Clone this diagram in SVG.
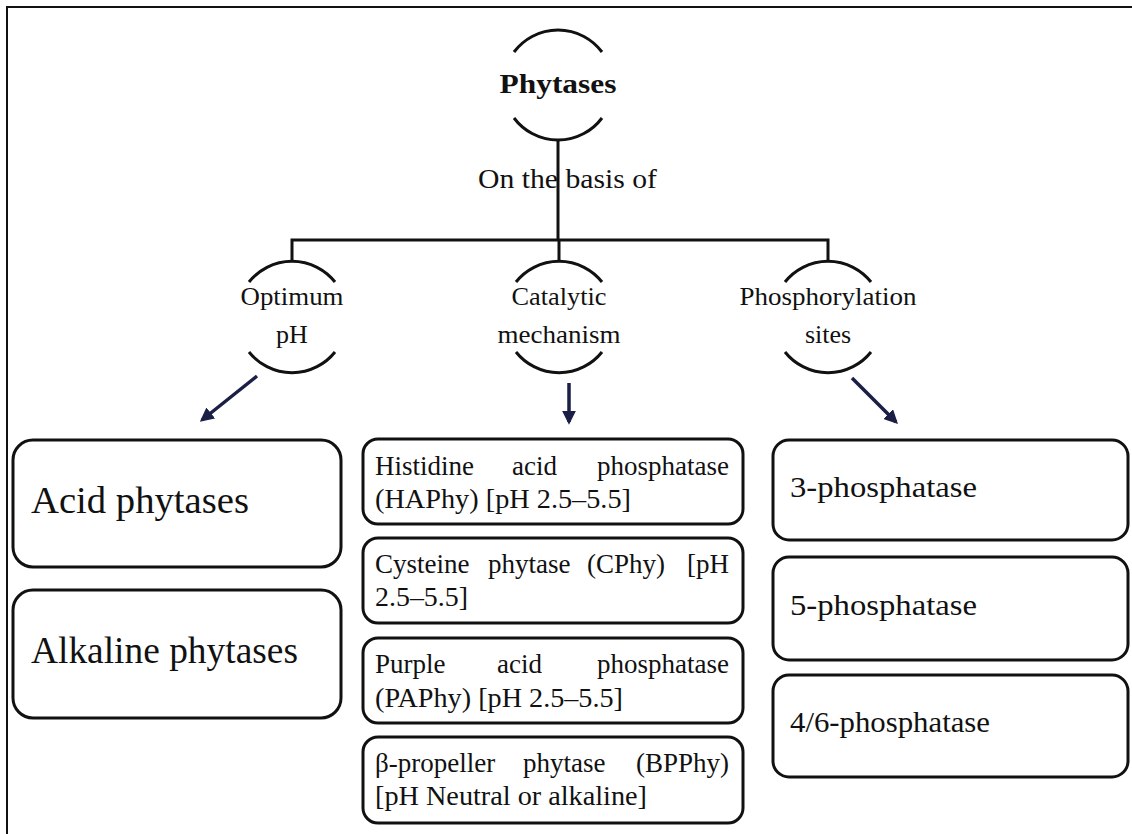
<svg xmlns="http://www.w3.org/2000/svg" width="1132" height="834" viewBox="0 0 1132 834">
<style>
  text { font-family: "Liberation Serif", "Times New Roman", serif; fill: #111; }
  .arc { fill: none; stroke: #111; stroke-width: 3; }
  .box { fill: #fff; stroke: #111; stroke-width: 3; }
  .conn { fill: none; stroke: #111; stroke-width: 3; }
  .arrow { fill: none; stroke: #1b1f45; stroke-width: 3.5; }
  .lbl { font-size: 26px; text-anchor: middle; }
  .mid { font-size: 27px; }
  .big { font-size: 37px; }
  .rt { font-size: 29px; }
</style>
<defs>
  <marker id="ah" viewBox="0 0 10 10" refX="8" refY="5" markerWidth="14" markerHeight="14" markerUnits="userSpaceOnUse" orient="auto">
    <path d="M0,0 L10,5 L0,10 z" fill="#1b1f45"/>
  </marker>
</defs>
<rect width="1132" height="834" fill="#fff"/>
<g id="frame">
  <path d="M7,834 L7,7 L1132,7" fill="none" stroke="#111" stroke-width="2"/>
</g>

<g id="connectors">
  <path class="conn" d="M558,140 L558,240"/>
  <path class="conn" d="M292,262 L292,240 L828,240 L828,262"/>
  <path class="conn" d="M559,240 L559,262"/>
  <line class="arrow" x1="257" y1="376" x2="202" y2="420" marker-end="url(#ah)"/>
  <line class="arrow" x1="569" y1="383" x2="569" y2="422" marker-end="url(#ah)"/>
  <line class="arrow" x1="852" y1="378" x2="896" y2="422" marker-end="url(#ah)"/>
</g>

<g id="phytases">
  <path class="arc" d="M514,52 A55,55 0 0 1 602,52"/>
  <path class="arc" d="M514,118 A55,55 0 0 0 602,118"/>
  <text x="558" y="93" font-size="28" font-weight="bold" text-anchor="middle" textLength="117" lengthAdjust="spacingAndGlyphs">Phytases</text>
</g>

<g id="basis-label">
  <text x="478" y="188" font-size="27" textLength="179" lengthAdjust="spacingAndGlyphs">On the basis of</text>
</g>

<g id="optimum-ph">
  <path class="arc" d="M249,282 A55,55 0 0 1 335,282"/>
  <path class="arc" d="M249,352 A55,55 0 0 0 335,352"/>
  <text class="lbl" x="292" y="305" textLength="103" lengthAdjust="spacingAndGlyphs">Optimum</text>
  <text class="lbl" x="292" y="343">pH</text>
</g>

<g id="catalytic-mechanism">
  <path class="arc" d="M516,282 A55,55 0 0 1 602,282"/>
  <path class="arc" d="M516,352 A55,55 0 0 0 602,352"/>
  <text class="lbl" x="559" y="305" textLength="95" lengthAdjust="spacingAndGlyphs">Catalytic</text>
  <text class="lbl" x="559" y="343" textLength="123" lengthAdjust="spacingAndGlyphs">mechanism</text>
</g>

<g id="phosphorylation-sites">
  <path class="arc" d="M785,282 A55,55 0 0 1 871,282"/>
  <path class="arc" d="M785,352 A55,55 0 0 0 871,352"/>
  <text class="lbl" x="828" y="305" textLength="177" lengthAdjust="spacingAndGlyphs">Phosphorylation</text>
  <text class="lbl" x="828" y="343">sites</text>
</g>

<g id="acid-phytases">
  <rect class="box" x="13" y="440" width="328" height="127" rx="20"/>
  <text class="big" x="31" y="513" textLength="218" lengthAdjust="spacingAndGlyphs">Acid phytases</text>
</g>

<g id="alkaline-phytases">
  <rect class="box" x="13" y="590" width="328" height="128" rx="20"/>
  <text class="big" x="31" y="663" textLength="267" lengthAdjust="spacingAndGlyphs">Alkaline phytases</text>
</g>

<g id="hap">
  <rect class="box" x="363" y="439" width="380" height="85" rx="15"/>
  <text class="mid" y="475"><tspan x="375">Histidine</tspan><tspan x="512">acid</tspan><tspan x="729" text-anchor="end">phosphatase</tspan></text>
  <text class="mid" x="375" y="508" textLength="256" lengthAdjust="spacingAndGlyphs">(HAPhy) [pH 2.5–5.5]</text>
</g>

<g id="cphy">
  <rect class="box" x="363" y="538" width="380" height="85" rx="15"/>
  <text class="mid" y="573"><tspan x="375">Cysteine</tspan><tspan x="488">phytase</tspan><tspan x="587">(CPhy)</tspan><tspan x="729" text-anchor="end">[pH</tspan></text>
  <text class="mid" x="375" y="606" textLength="93" lengthAdjust="spacingAndGlyphs">2.5–5.5]</text>
</g>

<g id="paphy">
  <rect class="box" x="363" y="638" width="380" height="85" rx="15"/>
  <text class="mid" y="673"><tspan x="375">Purple</tspan><tspan x="497">acid</tspan><tspan x="729" text-anchor="end">phosphatase</tspan></text>
  <text class="mid" x="375" y="707" textLength="248" lengthAdjust="spacingAndGlyphs">(PAPhy) [pH 2.5–5.5]</text>
</g>

<g id="bpphy">
  <rect class="box" x="363" y="737" width="380" height="86" rx="15"/>
  <text class="mid" y="772"><tspan x="375">β-propeller</tspan><tspan x="523">phytase</tspan><tspan x="729" text-anchor="end">(BPPhy)</tspan></text>
  <text class="mid" x="375" y="805" textLength="272" lengthAdjust="spacingAndGlyphs">[pH Neutral or alkaline]</text>
</g>

<g id="p3">
  <rect class="box" x="773" y="440" width="355" height="100" rx="16"/>
  <text class="rt" x="790" y="497" textLength="187" lengthAdjust="spacingAndGlyphs">3-phosphatase</text>
</g>

<g id="p5">
  <rect class="box" x="773" y="557" width="355" height="103" rx="16"/>
  <text class="rt" x="790" y="615" textLength="187" lengthAdjust="spacingAndGlyphs">5-phosphatase</text>
</g>

<g id="p46">
  <rect class="box" x="773" y="675" width="355" height="102" rx="16"/>
  <text class="rt" x="790" y="732" textLength="200" lengthAdjust="spacingAndGlyphs">4/6-phosphatase</text>
</g>
</svg>
